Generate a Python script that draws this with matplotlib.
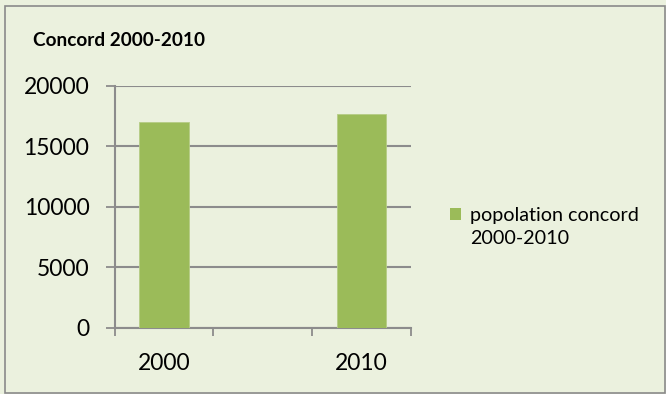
import numpy as np
import matplotlib
matplotlib.use("Agg")
import matplotlib.pyplot as plt
from matplotlib.patches import Rectangle, Patch
from matplotlib.legend_handler import HandlerPatch

# Data
categories = ["2000", "", "2010"]
population = [16993, None, 17668]
y_ticks = [0, 5000, 10000, 15000, 20000]
title = "Concord 2000-2010"
series_label = "popolation concord\n2000-2010"

BG = "#EBF1DE"
BAR = "#9BBB59"
GRID = "#8C8C8C"
FONT = "Lato"

W, H = 666, 394
fig = plt.figure(figsize=(W / 100, H / 100), dpi=100)
fig.patch.set_facecolor(BG)

# outer chart border
fig.add_artist(Rectangle((5 / W, 1 - 393 / H), 660 / W, 387 / H,
                         transform=fig.transFigure, fill=False,
                         edgecolor="#8A8A8A", linewidth=1.2))

left, right, top, bottom = 114.7, 410.7, 85.7, 328.0
ax = fig.add_axes([left / W, 1 - bottom / H, (right - left) / W, (bottom - top) / H])
ax.set_facecolor(BG)

x = np.arange(len(categories))
vals = np.array([np.nan if v is None else v for v in population], dtype=float)
ax.bar(x, vals, width=0.5, color=BAR, edgecolor="#B5CC85", linewidth=0.6,
       label=series_label, zorder=3)

ax.set_xlim(-0.5, len(categories) - 0.5)
ax.set_ylim(0, 20000)

# y axis
ax.set_yticks(y_ticks)
ax.set_yticklabels([str(v) for v in y_ticks], fontfamily=FONT, fontsize=16.5)
ax.tick_params(axis="y", length=6.2, width=1.3, color=GRID, pad=12, direction="out")
ax.yaxis.grid(True, color=GRID, linewidth=1.5, zorder=1)

# x axis: tick marks on category boundaries, labels at the centres
ax.set_xticks(np.arange(len(categories) + 1) - 0.5)
ax.set_xticklabels([])
ax.tick_params(axis="x", which="major", length=6, width=1.3, color=GRID, direction="out")
ax.set_xticks(x, minor=True)
ax.set_xticklabels(categories, minor=True, fontfamily=FONT, fontsize=16.5)
ax.tick_params(axis="x", which="minor", length=0, pad=18)

for s in ["top", "right"]:
    ax.spines[s].set_visible(False)
for s in ["left", "bottom"]:
    ax.spines[s].set_color(GRID)
    ax.spines[s].set_linewidth(1.5)
ax.set_axisbelow(True)

fig.text(33 / W, 1 - 40 / H, title, fontfamily=FONT, fontweight="bold",
         fontsize=13.7, va="center", ha="left")


# legend key sits level with the first line of the label
def top_aligned_key(legend, orig_handle, xdescent, ydescent, width, height, fontsize):
    return Rectangle((-xdescent, -ydescent + 9.2), width, height)


handles = [Patch(facecolor=BAR, edgecolor="none")]
leg = fig.legend(handles, [series_label], loc="upper left",
                 bbox_to_anchor=(432 / W, 1 - 189 / H), frameon=False,
                 prop={"family": FONT, "size": 14.2}, handlelength=0.58,
                 handleheight=0.58, handletextpad=0.45, labelspacing=0.2,
                 handler_map={Patch: HandlerPatch(patch_func=top_aligned_key)})
for t in leg.get_texts():
    t.set_linespacing(1.45)

fig.savefig("out.png", dpi=100, facecolor=BG)
